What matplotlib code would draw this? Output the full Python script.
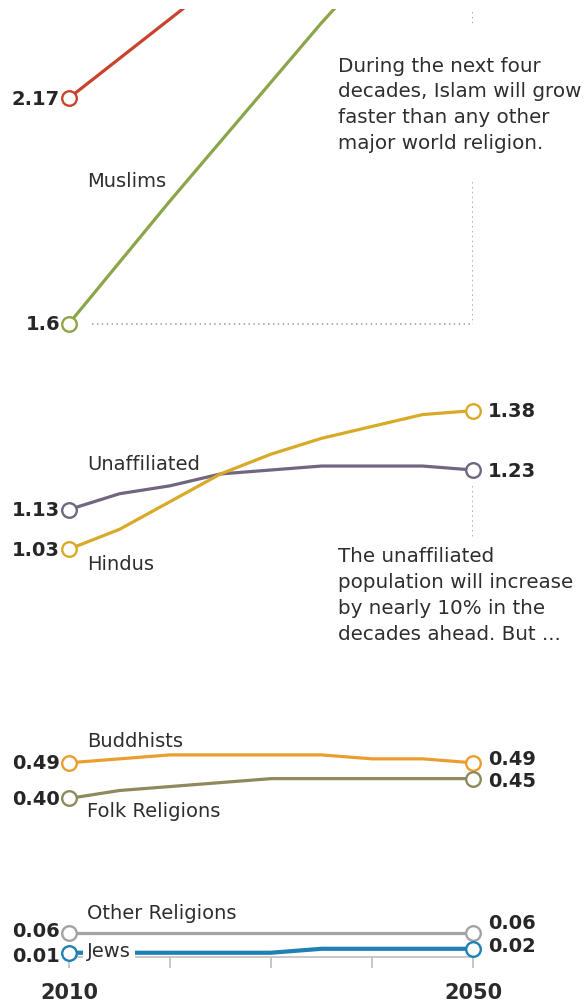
import matplotlib
matplotlib.use("Agg")
import matplotlib.pyplot as plt

# World population by religion, billions
years = [2010, 2015, 2020, 2025, 2030, 2035, 2040, 2045, 2050]
christians = [2.17, 2.27, 2.37, 2.47, 2.58, 2.67, 2.76, 2.84, 2.92]
muslims = [1.60, 1.755, 1.91, 2.06, 2.21, 2.36, 2.50, 2.63, 2.76]
unaffiliated = [1.13, 1.17, 1.19, 1.22, 1.23, 1.24, 1.24, 1.24, 1.23]
hindus = [1.03, 1.08, 1.15, 1.22, 1.27, 1.31, 1.34, 1.37, 1.38]
buddhists = [0.49, 0.50, 0.51, 0.51, 0.51, 0.51, 0.50, 0.50, 0.49]
folk = [0.40, 0.42, 0.43, 0.44, 0.45, 0.45, 0.45, 0.45, 0.45]
other = [0.06, 0.06, 0.06, 0.06, 0.06, 0.06, 0.06, 0.06, 0.06]
jews = [0.01, 0.01, 0.01, 0.01, 0.01, 0.02, 0.02, 0.02, 0.02]

year_labels = ["2010", "", "", "", "2050"]

series = [
    # name, values, colour, show end marker
    ("Christians", christians, "#c9432c", False),
    ("Muslims", muslims, "#8ba548", False),
    ("Unaffiliated", unaffiliated, "#716682", True),
    ("Hindus", hindus, "#d8aa28", True),
    ("Buddhists", buddhists, "#eb9e30", True),
    ("Folk Religions", folk, "#8e8a5d", True),
    ("Other Religions", other, "#a3a3a3", True),
    ("Jews", jews, "#1f80b2", True),
]

plt.rcParams["font.family"] = ["DejaVu Sans"]

W, H = 585, 1004
fig = plt.figure(figsize=(W / 100, H / 100), dpi=100)

y_top, y_bot = 10.0, 957.7
ax = fig.add_axes([69 / W, (H - y_bot) / H, 404 / W, (y_bot - y_top) / H])
ymax = (y_bot - y_top) / 395.7
ax.set_xlim(2010, 2050)
ax.set_ylim(0, ymax)

for s in ("top", "right", "left"):
    ax.spines[s].set_visible(False)
ax.spines["bottom"].set_color("#c4c4c4")
ax.spines["bottom"].set_linewidth(1.3)
ax.set_yticks([])
ax.set_xticks([2010, 2020, 2030, 2040, 2050])
ax.set_xticklabels(year_labels, fontsize=15, fontweight="bold", color="#2b2b2b")
ax.tick_params(axis="x", length=8, width=1.2, color="#bdbdbd", pad=10)

# dotted guide lines for the annotations
guide = dict(color="#9a9a9a", linestyle=(0, (1, 2.2)), linewidth=1.1, zorder=1)
ax.plot([2050, 2050], [ymax - 0.008, 2.352], **guide)
ax.plot([2050, 2050], [1.958, muslims[0]], **guide)
ax.plot([2012.3, 2050], [muslims[0], muslims[0]], **guide)
ax.plot([2050, 2050], [unaffiliated[-1] - 0.04, unaffiliated[-1] - 0.17], **guide)

for name, vals, col, end in series:
    lw = 3.0 if name == "Jews" else 2.3
    ax.plot(years, vals, color=col, linewidth=lw, solid_capstyle="butt",
            solid_joinstyle="round", zorder=3)
    idx = [0, -1] if end else [0]
    ax.plot([years[i] for i in idx], [vals[i] for i in idx], "o", ms=10.5,
            mfc="white", mec=col, mew=1.7, clip_on=False, zorder=5)

num = dict(fontsize=14, fontweight="bold", color="#262626", va="center",
           textcoords="offset pixels", annotation_clip=False)
lab = dict(fontsize=14, color="#2e2e2e", va="center",
           textcoords="offset pixels", annotation_clip=False)

def left_num(vals, text, dy=0):
    ax.annotate(text, (years[0], vals[0]), xytext=(-9, dy), ha="right", **num)

def right_num(vals, text, dy=0):
    ax.annotate(text, (years[-1], vals[-1]), xytext=(15, dy), ha="left", **num)

left_num(christians, "2.17")
left_num(muslims, "1.6")
left_num(unaffiliated, "1.13")
left_num(hindus, "1.03")
left_num(buddhists, "0.49")
left_num(folk, "0.40")
left_num(other, "0.06", dy=2)
left_num(jews, "0.01", dy=-3)

right_num(hindus, "1.38")
right_num(unaffiliated, "1.23", dy=-1)
right_num(buddhists, "0.49", dy=4)
right_num(folk, "0.45", dy=-2)
right_num(other, "0.06", dy=10)
right_num(jews, "0.02", dy=3)

# series names
ax.annotate("Muslims", (years[0], muslims[0]), xytext=(18, 143), ha="left", **lab)
ax.annotate("Unaffiliated", (years[0], unaffiliated[0]), xytext=(18, 46), ha="left", **lab)
ax.annotate("Hindus", (years[0], hindus[0]), xytext=(18, -14), ha="left", **lab)
ax.annotate("Buddhists", (years[0], buddhists[0]), xytext=(18, 22), ha="left", **lab)
ax.annotate("Folk Religions", (years[0], folk[0]), xytext=(18, -12), ha="left", **lab)
ax.annotate("Other Religions", (years[0], other[0]), xytext=(18, 20), ha="left", **lab)
ax.annotate("Jews", (years[0], jews[0]), xytext=(18, 2), ha="left",
            bbox=dict(boxstyle="square,pad=0.2", fc="white", ec="none"),
            zorder=6, **lab)

# annotations
note = dict(fontsize=14.3, color="#2e2e2e", va="top", ha="left", linespacing=1.46,
            textcoords="offset pixels", annotation_clip=False,
            bbox=dict(boxstyle="square,pad=0.3", fc="white", ec="none"), zorder=6)
ax.annotate("During the next four\ndecades, Islam will grow\nfaster than any other\n"
            "major world religion.", (years[-1], muslims[0]), xytext=(-135, 268), **note)
ax.annotate("The unaffiliated\npopulation will increase\nby nearly 10% in the\n"
            "decades ahead. But ...", (years[-1], unaffiliated[-1]), xytext=(-135, -76), **note)

fig.savefig("out.png", dpi=100, facecolor="white")
